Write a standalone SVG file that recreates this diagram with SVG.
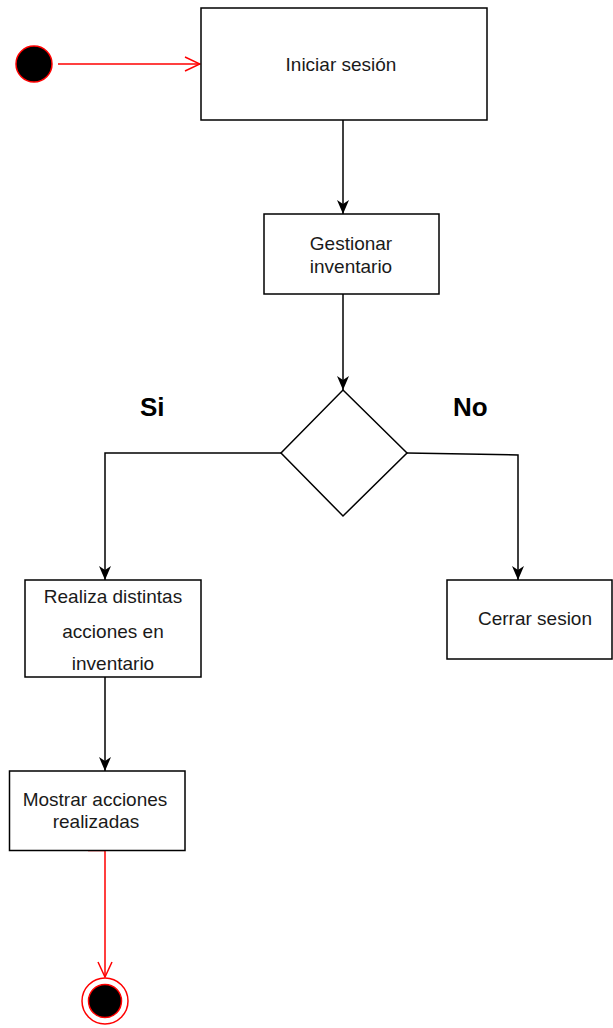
<svg xmlns="http://www.w3.org/2000/svg" width="613" height="1028" viewBox="0 0 613 1028">
  <defs>
    <style>
      .box { fill: #fff; stroke: #000; stroke-width: 1.5; }
      .lbl { font-family: "Liberation Sans", Arial, sans-serif; font-size: 19px; fill: #1a1a1a; text-anchor: middle; }
      .big { font-family: "Liberation Sans", Arial, sans-serif; font-size: 26px; font-weight: bold; fill: #000; }
      .flow { fill: none; stroke: #000; stroke-width: 1.5; }
      .red { fill: none; stroke: #f00; stroke-width: 1.5; }
    </style>
    <marker id="solid" viewBox="0 0 14 14" refX="14" refY="7" markerWidth="14" markerHeight="14" markerUnits="userSpaceOnUse" orient="auto">
      <path d="M0,1 L14,7 L0,13 L4,7 Z" fill="#000"/>
    </marker>
    <marker id="open" viewBox="0 0 18 18" refX="17" refY="9" markerWidth="18" markerHeight="18" markerUnits="userSpaceOnUse" orient="auto">
      <path d="M2,2 L17,9 L2,16" fill="none" stroke="#f00" stroke-width="1.5"/>
    </marker>
  </defs>

  <rect width="613" height="1028" fill="#fff"/>

  <!-- connectors -->
  <g id="connectors">
    <path class="red" d="M58,64 H200" marker-end="url(#open)"/>
    <path class="flow" d="M343,120 V214" marker-end="url(#solid)"/>
    <path class="flow" d="M343,294 V390" stroke="#444" marker-end="url(#solid)"/>
    <path class="flow" d="M281,453 H105 V580" marker-end="url(#solid)"/>
    <path class="flow" d="M407,453 L518,455 V580" marker-end="url(#solid)"/>
    <path class="flow" d="M105,677 V771" marker-end="url(#solid)"/>
    <path class="red" d="M88,850.5 H105 V977" marker-end="url(#open)"/>
  </g>

  <g id="start">
    <circle cx="34" cy="64" r="18" fill="#000" stroke="#f00" stroke-width="1.5"/>
  </g>

  <g id="iniciar">
    <rect class="box" x="201" y="8" width="286" height="112"/>
    <text class="lbl" x="341" y="71">Iniciar sesión</text>
  </g>

  <g id="gestionar">
    <rect class="box" x="264" y="214" width="175" height="80"/>
    <text class="lbl" x="351" y="250">Gestionar</text>
    <text class="lbl" x="351" y="273">inventario</text>
  </g>

  <g id="decision">
    <polygon points="343,390 407,453 343,516 281,453" fill="#fff" stroke="#000" stroke-width="1.5"/>
  </g>

  <g id="label-si">
    <text class="big" x="140" y="416">Si</text>
  </g>
  <g id="label-no">
    <text class="big" x="453" y="416">No</text>
  </g>

  <g id="realiza">
    <rect class="box" x="25" y="580" width="176" height="97"/>
    <text class="lbl" x="113" y="603">Realiza distintas</text>
    <text class="lbl" x="113" y="638">acciones en</text>
    <text class="lbl" x="113" y="670">inventario</text>
  </g>

  <g id="cerrar">
    <rect class="box" x="447" y="580" width="165" height="79"/>
    <text class="lbl" x="535" y="625">Cerrar sesion</text>
  </g>

  <g id="mostrar">
    <rect class="box" x="9.5" y="771" width="175.5" height="79.5"/>
    <text class="lbl" x="95" y="806">Mostrar acciones</text>
    <text class="lbl" x="96" y="828">realizadas</text>
  </g>

  <g id="end">
    <circle cx="105" cy="1001" r="23" fill="none" stroke="#f00" stroke-width="1.5"/>
    <circle cx="105" cy="1001" r="16.5" fill="#000" stroke="#f00" stroke-width="1.5"/>
  </g>
</svg>
